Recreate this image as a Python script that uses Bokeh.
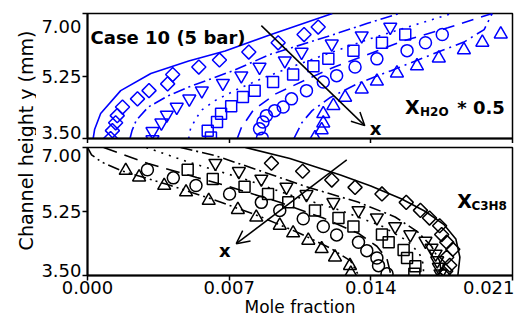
import math
from bokeh.plotting import figure
from bokeh.models import (Range1d, FixedTicker, Label, Arrow, OpenHead, PrintfTickFormatter,
                          LinearAxis)
from bokeh.layouts import row, column
from bokeh.embed import file_html
from bokeh.resources import INLINE

FONT = "DejaVu Sans"
BLUE = "#0000ff"

# ---------------- data: upper panel (X_H2O * 0.5) ----------------
top_diamond_x = [0.00114, 0.00123, 0.00139, 0.00147, 0.00173, 0.00247, 0.00304, 0.00396, 0.00421, 0.00550, 0.00652, 0.00797, 0.00942, 0.01070, 0.01140]
top_diamond_y = [3.50, 3.72, 3.94, 4.14, 4.38, 4.61, 4.84, 5.03, 5.29, 5.50, 5.70, 5.92, 6.18, 6.41, 6.62]
top_dtri_x = [0.00321, 0.00321, 0.00365, 0.00392, 0.00441, 0.00503, 0.00565, 0.00669, 0.00760, 0.00850, 0.00975, 0.01058, 0.01207, 0.01355, 0.01496]
top_dtri_y = [3.47, 3.70, 3.94, 4.16, 4.38, 4.61, 4.84, 5.05, 5.26, 5.50, 5.68, 5.92, 6.15, 6.38, 6.62]
top_square_x = [0.00610, 0.00594, 0.00640, 0.00660, 0.00710, 0.00768, 0.00826, 0.00917, 0.01016, 0.01116, 0.01190, 0.01314, 0.01455, 0.01570]
top_square_y = [3.53, 3.72, 3.96, 4.19, 4.40, 4.66, 4.84, 5.08, 5.29, 5.52, 5.73, 5.96, 6.18, 6.41]
top_circle_x = [0.00864, 0.00850, 0.00867, 0.00884, 0.00925, 0.00967, 0.01008, 0.01082, 0.01165, 0.01231, 0.01322, 0.01430, 0.01579, 0.01670, 0.01753]
top_circle_y = [3.51, 3.77, 3.96, 4.14, 4.28, 4.38, 4.61, 4.84, 5.08, 5.26, 5.50, 5.73, 5.96, 6.18, 6.41]
top_tri_x = [0.01124, 0.01157, 0.01165, 0.01165, 0.01215, 0.01273, 0.01355, 0.01430, 0.01529, 0.01628, 0.01736, 0.01860, 0.01951, 0.02042]
top_tri_y = [3.52, 3.74, 3.93, 4.19, 4.42, 4.65, 4.88, 5.10, 5.33, 5.53, 5.75, 5.98, 6.19, 6.42]

top_solid_x = [0.00028, 0.00035, 0.00065, 0.00164, 0.00313, 0.00500, 0.00680, 0.00900, 0.01210]
top_solid_y = [3.50, 3.75, 4.20, 4.84, 5.32, 5.67, 5.95, 6.40, 7.00]
top_dashdot_x = [0.00210, 0.00220, 0.00240, 0.00300, 0.00400, 0.00500, 0.00720, 0.00900, 0.01200, 0.01380, 0.01540]
top_dashdot_y = [3.50, 3.72, 4.00, 4.38, 4.70, 4.94, 5.40, 5.85, 6.38, 6.72, 7.00]
top_dotted_x = [0.00500, 0.00510, 0.00560, 0.00630, 0.00730, 0.00870, 0.01030, 0.01200, 0.01400, 0.01600, 0.01800]
top_dotted_y = [3.50, 3.80, 4.28, 4.56, 4.85, 5.20, 5.55, 5.90, 6.30, 6.65, 7.00]
top_dashed_x = [0.00740, 0.00760, 0.00820, 0.00930, 0.01100, 0.01220, 0.01370, 0.01560, 0.01780, 0.02000]
top_dashed_y = [3.50, 3.80, 4.30, 4.75, 5.20, 5.50, 5.82, 6.23, 6.60, 7.00]
top_dashdot2_x = [0.01020, 0.01060, 0.01110, 0.01200, 0.01340, 0.01500, 0.01700, 0.01860, 0.01960, 0.02000]
top_dashdot2_y = [3.50, 3.95, 4.28, 4.65, 5.05, 5.40, 5.85, 6.20, 6.55, 7.00]

# ---------------- data: lower panel (X_C3H8) ----------------
bot_diamond_x = [0.00909, 0.01063, 0.01207, 0.01322, 0.01455, 0.01575, 0.01645, 0.01690, 0.01740, 0.01750, 0.01775, 0.01805, 0.01775, 0.01790, 0.01770, 0.01760]
bot_diamond_y = [6.57, 6.35, 6.11, 5.91, 5.73, 5.50, 5.28, 5.07, 4.86, 4.62, 4.41, 4.22, 4.00, 3.78, 3.62, 3.50]
bot_dtri_x = [0.00632, 0.00748, 0.00859, 0.00983, 0.01082, 0.01215, 0.01339, 0.01430, 0.01520, 0.01595, 0.01670, 0.01700, 0.01720, 0.01728, 0.01736, 0.01744]
bot_dtri_y = [6.57, 6.35, 6.14, 5.92, 5.72, 5.50, 5.28, 5.08, 4.84, 4.62, 4.44, 4.25, 4.09, 3.91, 3.73, 3.55]
bot_square_x = [0.00495, 0.00619, 0.00776, 0.00892, 0.00992, 0.01124, 0.01240, 0.01314, 0.01455, 0.01488, 0.01562, 0.01579, 0.01620, 0.01615]
bot_square_y = [6.39, 6.14, 5.93, 5.73, 5.50, 5.28, 5.07, 4.84, 4.62, 4.41, 4.20, 3.98, 3.75, 3.55]
bot_circle_x = [0.00296, 0.00424, 0.00536, 0.00702, 0.00859, 0.00950, 0.01066, 0.01165, 0.01231, 0.01339, 0.01380, 0.01430, 0.01438, 0.01480]
bot_circle_y = [6.39, 6.17, 5.96, 5.73, 5.50, 5.28, 5.05, 4.84, 4.61, 4.41, 4.18, 3.98, 3.77, 3.55]
bot_tri_x = [0.00189, 0.00255, 0.00379, 0.00487, 0.00599, 0.00743, 0.00834, 0.00950, 0.01016, 0.01091, 0.01157, 0.01223, 0.01297, 0.01301]
bot_tri_y = [6.37, 6.19, 5.96, 5.78, 5.55, 5.30, 5.09, 4.87, 4.66, 4.46, 4.23, 4.00, 3.77, 3.56]

bot_solid_x = [0.00780, 0.01000, 0.01250, 0.01400, 0.01550, 0.01670, 0.01760, 0.01820, 0.01840, 0.01830]
bot_solid_y = [7.00, 6.70, 6.25, 5.95, 5.60, 5.25, 4.90, 4.50, 4.00, 3.50]
bot_dashdot_x = [0.00460, 0.00630, 0.00860, 0.01080, 0.01340, 0.01520, 0.01630, 0.01700, 0.01740, 0.01750]
bot_dashdot_y = [7.00, 6.78, 6.35, 5.93, 5.50, 5.10, 4.70, 4.30, 3.90, 3.50]
bot_dotted_x = [0.00290, 0.00500, 0.00780, 0.00990, 0.01240, 0.01455, 0.01580, 0.01640, 0.01660, 0.01660]
bot_dotted_y = [7.00, 6.60, 6.13, 5.72, 5.30, 4.85, 4.45, 4.10, 3.80, 3.50]
bot_dashed_x = [0.00080, 0.00160, 0.00300, 0.00540, 0.00700, 0.00950, 0.01165, 0.01339, 0.01430, 0.01480, 0.01500]
bot_dashed_y = [7.00, 6.84, 6.56, 6.18, 5.93, 5.50, 5.07, 4.65, 4.30, 3.95, 3.50]
bot_dashdot2_x = [0.00000, 0.00020, 0.00070, 0.00170, 0.00400, 0.00620, 0.00850, 0.01050, 0.01200, 0.01300, 0.01340]
bot_dashdot2_y = [7.00, 6.80, 6.60, 6.36, 5.98, 5.58, 5.12, 4.65, 4.25, 3.90, 3.50]

# arrows (start x, start y, end x, end y)
top_arrow = [0.00859, 6.66, 0.01370, 3.86]
bot_arrow = [0.01281, 6.66, 0.00735, 4.37]

x_ticks = [0.0, 0.007, 0.014, 0.021]
y_ticks = [3.5, 5.25, 7.0]
y_tick_labels = ["3.50", "5.25", "7.00"]
# where the y tick labels sit (the end labels are drawn just inside the tick span)
top_ylabel_pos = [3.68, 5.25, 6.65]
bot_ylabel_pos = [3.65, 5.24, 6.78]


def panel(height, top_border, bottom_border, label_pos):
    p = figure(width=478, height=height,
               x_range=Range1d(0, 0.021), y_range=Range1d(3.5, 7.0),
               output_backend="svg", toolbar_location=None,
               min_border_left=51, min_border_right=2,
               min_border_top=top_border, min_border_bottom=bottom_border)
    p.grid.visible = False
    p.outline_line_color = "black"
    p.outline_line_width = 1.5
    p.xaxis.ticker = FixedTicker(ticks=x_ticks)
    p.yaxis.ticker = FixedTicker(ticks=y_ticks)
    p.axis.minor_tick_line_color = None
    p.axis.major_tick_out = 5
    p.axis.major_tick_in = 0
    p.axis.major_tick_line_width = 1.5
    p.axis.axis_line_width = 2
    p.axis.major_label_text_font = FONT
    p.axis.major_label_text_font_size = "18px"
    p.axis.major_label_text_color = "black"
    p.xaxis.major_label_standoff = 0
    p.xaxis.formatter = PrintfTickFormatter(format="%.3f")
    # tick marks only on the main y axis
    p.yaxis.major_label_text_color = None
    p.yaxis.major_label_text_font_size = "1px"
    p.yaxis.major_label_standoff = 0
    # a second, line-less axis carries the y tick labels
    lab = LinearAxis(ticker=FixedTicker(ticks=label_pos),
                     major_label_overrides=dict(zip(label_pos, y_tick_labels)),
                     axis_line_color=None, major_tick_line_color=None,
                     minor_tick_line_color=None, major_tick_out=0, major_tick_in=0,
                     major_label_standoff=1, major_label_text_font=FONT,
                     major_label_text_font_size="18px", major_label_text_color="black")
    p.add_layout(lab, "left")
    return p


def draw(p, color, lines, markers):
    for (lx, ly, dash) in lines:
        p.line(lx, ly, line_color=color, line_width=1.6, line_dash=dash)
    for (mx, my, mk, sz, ang) in markers:
        p.scatter(mx, my, marker=mk, size=sz, angle=ang, line_color=color,
                  fill_color=None, line_width=1.5)


top = panel(143, 13, 5, top_ylabel_pos)
top.xaxis.major_label_text_color = None
top.xaxis.major_label_text_font_size = "1px"
top.xaxis.major_label_standoff = 0

draw(top, BLUE,
     [(top_solid_x, top_solid_y, "solid"),
      (top_dashdot_x, top_dashdot_y, "12 4 2 4"),
      (top_dotted_x, top_dotted_y, "2 6"),
      (top_dashed_x, top_dashed_y, "12 8"),
      (top_dashdot2_x, top_dashdot2_y, "12 5 2 5")],
     [(top_diamond_x, top_diamond_y, "square", 10, math.pi / 4),
      (top_dtri_x, top_dtri_y, "inverted_triangle", 13, 0),
      (top_square_x, top_square_y, "square", 11, 0),
      (top_circle_x, top_circle_y, "circle", 12, 0),
      (top_tri_x, top_tri_y, "triangle", 13, 0)])

top.add_layout(Arrow(end=OpenHead(size=13, line_width=1.5, line_color="black"),
                     x_start=top_arrow[0], y_start=top_arrow[1],
                     x_end=top_arrow[2], y_end=top_arrow[3],
                     line_width=1.5, line_color="black"))

bold = dict(text_font=FONT, text_font_style="bold", text_color="black",
            text_baseline="alphabetic", text_align="left")
top.add_layout(Label(x=0.00015, y=6.33, text="Case 10 (5 bar)", text_font_size="18px", **bold))
top.add_layout(Label(x=0.01395, y=3.78, text="x", text_font_size="18px", **bold))
top.add_layout(Label(x=0.01569, y=4.37, text="X", text_font_size="19px", **bold))
top.add_layout(Label(x=0.01643, y=4.23, text="H2O", text_font_size="12px", **bold))
top.add_layout(Label(x=0.01827, y=4.37, text="* 0.5", text_font_size="18px", **bold))

bot = panel(177, 4, 45, bot_ylabel_pos)
bot.xaxis.axis_label = "Mole fraction"
bot.xaxis.axis_label_text_font = FONT
bot.xaxis.axis_label_text_font_size = "17px"
bot.xaxis.axis_label_text_font_style = "normal"
bot.xaxis.axis_label_text_color = "black"
bot.xaxis.axis_label_standoff = 0

draw(bot, "black",
     [(bot_solid_x, bot_solid_y, "solid"),
      (bot_dashdot_x, bot_dashdot_y, "12 4 2 4"),
      (bot_dotted_x, bot_dotted_y, "2 6"),
      (bot_dashed_x, bot_dashed_y, "14 8"),
      (bot_dashdot2_x, bot_dashdot2_y, "12 4 2 4 2 4")],
     [(bot_diamond_x, bot_diamond_y, "square", 10, math.pi / 4),
      (bot_dtri_x, bot_dtri_y, "inverted_triangle", 13, 0),
      (bot_square_x, bot_square_y, "square", 11, 0),
      (bot_circle_x, bot_circle_y, "circle", 12, 0),
      (bot_tri_x, bot_tri_y, "triangle", 13, 0)])

bot.add_layout(Arrow(end=OpenHead(size=13, line_width=1.5, line_color="black"),
                     x_start=bot_arrow[0], y_start=bot_arrow[1],
                     x_end=bot_arrow[2], y_end=bot_arrow[3],
                     line_width=1.5, line_color="black"))
bot.add_layout(Label(x=0.0065, y=4.18, text="x", text_font_size="18px", **bold))
bot.add_layout(Label(x=0.01827, y=5.55, text="X", text_font_size="19px", **bold))
bot.add_layout(Label(x=0.01897, y=5.41, text="C3H8", text_font_size="12px", **bold))

# narrow strip holding the shared y-axis title
ttl = figure(width=36, height=320, x_range=Range1d(0, 1), y_range=Range1d(0, 1),
             x_axis_type=None, y_axis_type=None, min_border=0,
             outline_line_color=None, toolbar_location=None, output_backend="svg")
ttl.grid.visible = False
ttl.add_layout(Label(x=25 / 36, y=180 / 320, text="Channel height y (mm)", angle=math.pi / 2,
                     text_font=FONT, text_font_size="19px", text_color="black",
                     text_align="center", text_baseline="middle"))

layout = row(ttl, column(top, bot))
open("out.html", "w").write(file_html(layout, INLINE))
